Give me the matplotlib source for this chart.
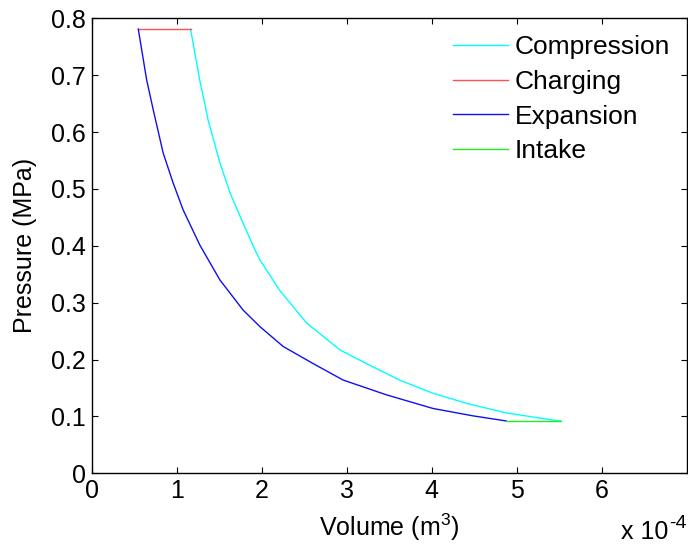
import numpy as np
import matplotlib as mpl
mpl.use('Agg')
import matplotlib.pyplot as plt

### plot settings - matlab look
plt.rc('font', family='Liberation Sans', size=18)
plt.rc('mathtext', fontset='custom', rm='Liberation Sans',
       it='Liberation Sans', bf='Liberation Sans')

### data, volume in 1e-4 m^3, pressure in MPa
V_comp = [5.52, 5.50, 4.88, 4.41, 4.01, 3.62, 3.23, 2.92, 2.53, 2.21,
          1.98, 1.92, 1.78, 1.63, 1.51, 1.37, 1.27, 1.163]
p_comp = [0.092, 0.092, 0.106, 0.123, 0.141, 0.164, 0.193, 0.217, 0.264, 0.322,
          0.375, 0.393, 0.440, 0.492, 0.545, 0.621, 0.692, 0.781]

V_charge = [1.163, 0.548]
p_charge = [0.781, 0.781]

V_exp = [0.548, 0.646, 0.724, 0.841, 0.959, 1.076, 1.273, 1.508, 1.781, 1.978,
         2.252, 2.604, 2.957, 3.466, 4.014, 4.484, 4.877]
p_exp = [0.781, 0.692, 0.639, 0.563, 0.510, 0.463, 0.401, 0.340, 0.287, 0.258,
         0.223, 0.193, 0.164, 0.138, 0.114, 0.101, 0.092]

V_intake = [4.877, 5.52]
p_intake = [0.092, 0.092]

yticks = [0, 0.1, 0.2, 0.3, 0.4, 0.5, 0.6, 0.7, 0.8]
ytick_labels = ['0', '0.1', '0.2', '0.3', '0.4', '0.5', '0.6', '0.7', '0.8']
xticks = [0, 1, 2, 3, 4, 5, 6]

#### create figure
fig = plt.figure(figsize=(6.88, 5.5), dpi=100)
ax = fig.add_axes([0.1333, 0.1395, 0.8648, 0.8272])

lw = 1.0
ax.plot(V_comp, p_comp, color='#00ffff', lw=lw, label='Compression')
ax.plot(V_charge, p_charge, color='#ff5050', lw=lw, label='Charging')
ax.plot(V_exp, p_exp, color='#1010ee', lw=lw, label='Expansion')
ax.plot(V_intake, p_intake, color='#22ee22', lw=lw, label='Intake')

ax.set_xlim(0, 7)
ax.set_ylim(0, 0.8)
ax.set_xticks(xticks)
ax.set_yticks(yticks)
ax.set_yticklabels(ytick_labels)
ax.tick_params(which='both', direction='in', length=4, width=0.8,
               top=True, right=True, pad=4)
for s in ax.spines.values():
    s.set_linewidth(1.0)

ax.set_ylabel('Pressure (MPa)', labelpad=10)
ax.set_xlabel('Volume (m$^3$)')
ax.xaxis.set_label_coords(0.5, (473.3 - 512) / 455)

## exponent label, matlab style
fig.text(621 / 688, 1 - 539 / 550, 'x 10', ha='left', va='baseline')
fig.text(669 / 688, 1 - 532 / 550, '-4', ha='left', va='bottom', fontsize=14)

ax.legend(loc='upper left', bbox_to_anchor=(453 / 688, 1 - 35 / 550),
          bbox_transform=fig.transFigure, frameon=False, borderpad=0,
          borderaxespad=0, handlelength=2.1, handletextpad=0.25,
          labelspacing=0.41, fontsize=19)

fig.savefig('out.png', dpi=100)
plt.close()
